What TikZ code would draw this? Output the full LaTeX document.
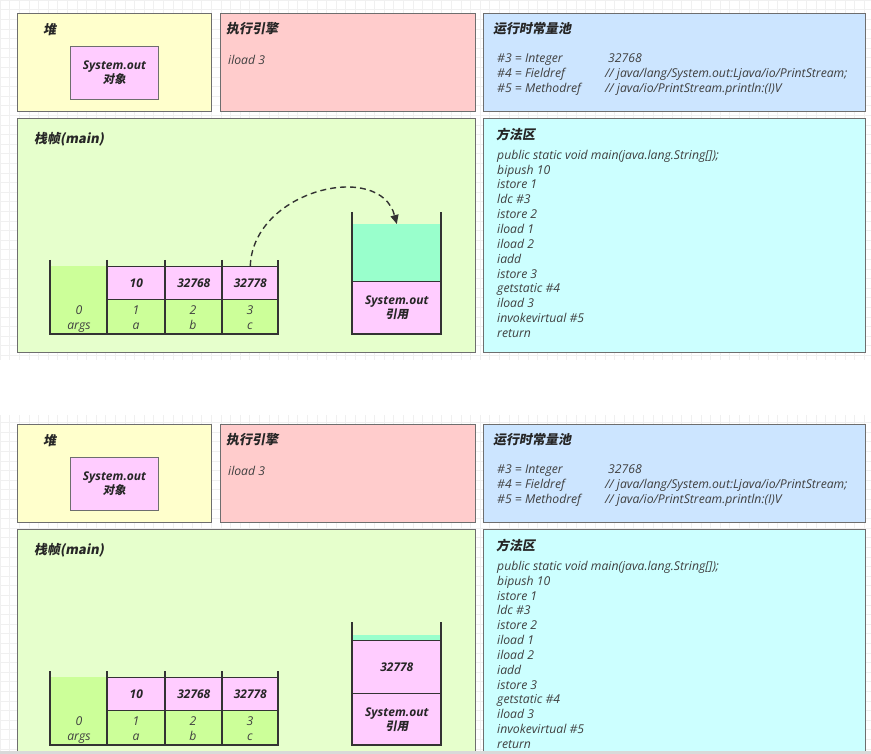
\documentclass[tikz,border=0pt]{standalone}
\usepackage{fontspec}
\setmainfont{Open Sans}
\newfontfamily\cjk{Noto Sans CJK SC}[FakeSlant=0.18]
\usetikzlibrary{arrows.meta}
\definecolor{heapc}{HTML}{FFFFCC}
\definecolor{objc}{HTML}{FFCCFF}
\definecolor{enginec}{HTML}{FFCCCC}
\definecolor{poolc}{HTML}{CCE5FF}
\definecolor{framec}{HTML}{E6FFCC}
\definecolor{methodc}{HTML}{CCFFFF}
\definecolor{greenc}{HTML}{CCFF99}
\definecolor{tealc}{HTML}{99FFCC}
\definecolor{boxline}{HTML}{6E6E6E}
\definecolor{wallc}{HTML}{333333}
\definecolor{titlec}{HTML}{262626}
\definecolor{codec}{HTML}{404040}
\definecolor{gridc}{HTML}{F0F0F0}
\tikzset{
  panel/.style={draw=boxline, line width=0.9pt, anchor=north west, inner sep=0pt},
  cell/.style={anchor=north west, inner sep=0pt, draw=wallc, line width=0.6pt},
  title/.style={anchor=west, font=\cjk\bfseries\fontsize{13}{15}\selectfont, text=titlec, inner sep=0pt},
  code/.style={anchor=base west, font=\fontsize{12.2}{14}\selectfont\itshape, text=codec, inner sep=0pt},
  num/.style={font=\fontsize{12}{14}\selectfont\bfseries\itshape, text=titlec, inner sep=0pt},
  twol/.style={align=center, font=\fontsize{12}{14}\selectfont, text=titlec, inner sep=0pt},
  idx/.style={anchor=base, font=\fontsize{12.2}{14}\selectfont\itshape, text=codec, inner sep=0pt},
  wall/.style={draw=wallc, line width=1.4pt},
  refarrow/.style={draw=wallc, line width=1.4pt, dash pattern=on 6pt off 4pt, -{Triangle[length=9pt,width=8pt]}}
}
\newcommand\twoline[2]{{\bfseries\itshape #1}\\{\cjk\bfseries\fontsize{11.5}{13}\selectfont #2}}
\newcommand\panelbase[1]{%
  \node[panel, fill=heapc, minimum width=194pt, minimum height=98pt] (heap#1) at (17,13) {};
  \node[title] (heapt#1) at (43,30) {堆};
  \node[panel, fill=objc, minimum width=88pt, minimum height=53pt] (obj#1) at (70,46) {};
  \node[twol] (objt#1) at (obj#1.center) {\twoline{System.out}{对象}};
  \node[panel, fill=enginec, minimum width=255pt, minimum height=98pt] (eng#1) at (220,13) {};
  \node[title] (engt#1) at (226,29) {执行引擎};
  \node[code] (engc#1) at (228,64.3) {iload 3};
  \node[panel, fill=poolc, minimum width=382pt, minimum height=98pt] (pool#1) at (483,13) {};
  \node[title] (poolt#1) at (493,29) {运行时常量池};
  \node[code] (pa#1) at (497,62.3) {\#3 = Integer};
  \node[code] (pb#1) at (497,77.3) {\#4 = Fieldref};
  \node[code] (pc#1) at (497,92.3) {\#5 = Methodref};
  \node[code] (pav#1) at (608,62.3) {32768};
  \node[code] (pbv#1) at (605,77.3) {// java/lang/System.out:Ljava/io/PrintStream;};
  \node[code] (pcv#1) at (605,92.3) {// java/io/PrintStream.println:(I)V};
  \node[panel, fill=framec, minimum width=458pt, minimum height=234pt] (frame#1) at (17,118) {};
  \node[title] (framet#1) at (34,139) {栈帧(main)};
  \node[panel, fill=methodc, minimum width=382pt, minimum height=234pt] (meth#1) at (483,118) {};
  \node[title] (metht#1) at (496,134) {方法区};
  \foreach \t [count=\i from 0] in {public static void main(java.lang.String[]);, bipush 10, istore 1, ldc \#3, istore 2, iload 1, iload 2, iadd, istore 3, getstatic \#4, iload 3, invokevirtual \#5, return}
    {\node[code] (m\i#1) at (497,{159.3+14.85*\i}) {\t};}
  % local variable table
  \node[anchor=north west, inner sep=0pt, fill=greenc, minimum width=57pt, minimum height=68pt] (args#1) at (50,266) {};
  \node[cell, fill=objc, minimum width=58pt, minimum height=33pt] (p1#1) at (107,266) {};
  \node[cell, fill=objc, minimum width=57pt, minimum height=33pt] (p2#1) at (165,266) {};
  \node[cell, fill=objc, minimum width=56pt, minimum height=33pt] (p3#1) at (222,266) {};
  \node[cell, fill=greenc, minimum width=58pt, minimum height=35pt] (g1#1) at (107,299) {};
  \node[cell, fill=greenc, minimum width=57pt, minimum height=35pt] (g2#1) at (165,299) {};
  \node[cell, fill=greenc, minimum width=56pt, minimum height=35pt] (g3#1) at (222,299) {};
  \node[num] (v1#1) at (p1#1.center) {10};
  \node[num] (v2#1) at (p2#1.center) {32768};
  \node[num] (v3#1) at (p3#1.center) {32778};
  \node[idx] (i0#1) at (79,314.3) {0};
  \node[idx] (n0#1) at (79,329.3) {args};
  \node[idx] (i1#1) at (136,314.3) {1};
  \node[idx] (n1#1) at (136,329.3) {a};
  \node[idx] (i2#1) at (193,314.3) {2};
  \node[idx] (n2#1) at (193,329.3) {b};
  \node[idx] (i3#1) at (250,314.3) {3};
  \node[idx] (n3#1) at (250,329.3) {c};
  \draw[wall] (50,260) -- (50,334) -- (278,334) -- (278,260);
  \draw[wall] (107,260) -- (107,334);
  \draw[wall] (165,260) -- (165,334);
  \draw[wall] (222,260) -- (222,334);
}
\begin{document}
\begin{tikzpicture}[x=1pt,y=-1pt]
\useasboundingbox (0,0) rectangle (871,754);
\clip (0,0) rectangle (871,754);
\fill[white] (0,0) rectangle (871,754);
\draw[gridc, line width=0.5pt, step=9.6pt] (0,0) grid (871,754);
\fill[white] (0,360) rectangle (871,415);
% ---------- top panel
\begin{scope}
\panelbase{a}
\node[cell, draw=none, fill=tealc, minimum width=89pt, minimum height=57pt] (ta) at (352,224) {};
\node[cell, fill=objc, minimum width=89pt, minimum height=53pt] (sa) at (352,281) {};
\node[twol] (sat) at (sa.center) {\twoline{System.out}{引用}};
\draw[wall] (352,212) -- (352,334) -- (441,334) -- (441,212);
\draw[refarrow] (p3a.north) .. controls (253,190) and (380,160) .. (ta.north);
\end{scope}
% ---------- bottom panel
\begin{scope}[yshift=-411pt]
\panelbase{b}
\node[cell, draw=none, fill=tealc, minimum width=89pt, minimum height=5pt] (tb) at (352,224) {};
\node[cell, fill=objc, minimum width=89pt, minimum height=53pt] (rb) at (352,229) {};
\node[num] (rbt) at (rb.center) {32778};
\node[cell, fill=objc, minimum width=89pt, minimum height=52pt] (sb) at (352,282) {};
\node[twol] (sbt) at (sb.center) {\twoline{System.out}{引用}};
\draw[wall] (352,211) -- (352,334) -- (441,334) -- (441,211);
\end{scope}
\fill[black!15] (0,751) rectangle (871,754);
\end{tikzpicture}
\end{document}
